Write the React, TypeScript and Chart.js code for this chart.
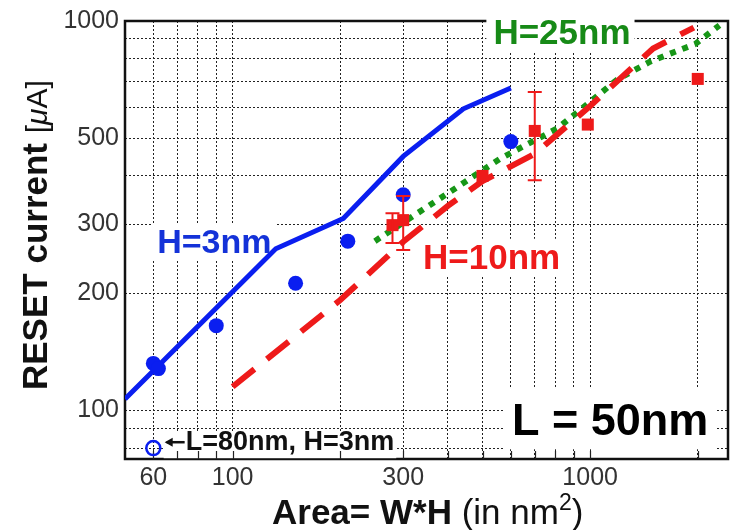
import React, { useEffect, useRef } from 'react';
import { Chart, registerables } from 'chart.js';

Chart.register(...registerables);

// ---- data ----
const blueModelX = [50, 132, 204, 300, 442, 600];
const blueModelY = [107, 260, 311, 449, 595, 673];
const redModelX = [100, 200, 300, 400, 500, 700, 1000, 1200, 1500, 1950];
const redModelY = [115, 192, 271, 335, 388, 456, 605, 705, 850, 962];
const greenModelX = [250, 400, 560, 810, 1000, 1190, 1470, 1670, 1970, 2300];
const greenModelY = [272, 361, 443, 530, 620, 707, 786, 824, 873, 975];
const blueDataX = [60, 62, 90, 150, 210, 300, 600];
const blueDataY = [132, 128, 165, 212, 272, 358, 490];
const openDataX = [60];
const openDataY = [80];
const redDataX = [280, 300, 500, 700, 985, 2000];
const redDataY = [299, 308, 400, 522, 542, 710];
const redErrLow = [269, 258, null, 390, null, null];
const redErrHigh = [321, 355, null, 657, null, null];

const xGrid = [60, 70, 80, 90, 100, 200, 300, 400, 500, 600, 700, 800, 900, 1000, 2000];
const xLabels = [60, 100, 300, 1000];
const yGrid = [80, 90, 100, 200, 300, 400, 500, 600, 700, 800, 900, 1000];
const yLabels = [100, 200, 300, 500, 1000];
const xMin = 50;
const xMax = 2430;
const yMin = 75;
const yMax = 1000;

const noteTexts = ['H=3nm', 'H=10nm', 'H=25nm', 'L = 50nm', 'L=80nm, H=3nm'];
const noteX = [61.5, 341, 834, 1137, 73.9];
const noteY = [253, 231, 871, 86.3, 79];

// ---- styles ----
const FONT = '"Liberation Sans", Arial, Helvetica, sans-serif';
const BLUE = '#0a1ef0';
const RED = '#ee1a1a';
const GREEN = '#179617';

const noteStyles = [
  { color: '#1432d8', size: 34, align: 'left', box: [5, 30, 5, 6] },
  { color: RED, size: 35, align: 'left', box: [5, 30, 5, 8] },
  { color: '#178a17', size: 35, align: 'center', box: [7, 35, 4, 7] },
  { color: '#000', size: 45, align: 'center', box: [7, 48, 8, 14] },
  { color: '#111', size: 27, align: 'left', box: [22, 18, 2, 8], arrow: true },
];

const pts = (xs: number[], ys: number[]) => xs.map((x, i) => ({ x, y: ys[i] }));

const overlay = {
  id: 'overlay',
  beforeDatasetsDraw(chart: any) {
    const { ctx, chartArea: a, scales } = chart;
    const xs = scales.x;
    const ys = scales.y;
    ctx.save();
    // frame
    ctx.strokeStyle = '#111';
    ctx.lineWidth = 2.5;
    ctx.setLineDash([]);
    ctx.strokeRect(a.left, a.top, a.right - a.left, a.bottom - a.top);
    // white boxes behind labels
    noteTexts.forEach((t, i) => {
      const st: any = noteStyles[i];
      ctx.font = `bold ${st.size}px ${FONT}`;
      const w = ctx.measureText(t).width;
      const px = xs.getPixelForValue(noteX[i]);
      const py = ys.getPixelForValue(noteY[i]);
      const left = st.align === 'center' ? px - w / 2 : px;
      ctx.fillStyle = '#fff';
      ctx.fillRect(left - st.box[0], py - st.box[1], w + st.box[0] + st.box[2], st.box[1] + st.box[3]);
    });
    // inward tick marks at the bottom
    ctx.strokeStyle = '#222';
    ctx.lineWidth = 1.2;
    xGrid.forEach((v) => {
      const x = Math.round(xs.getPixelForValue(v)) + 0.5;
      ctx.beginPath();
      ctx.moveTo(x, a.bottom);
      ctx.lineTo(x, a.bottom - 8);
      ctx.stroke();
    });
    ctx.restore();
  },
  afterDatasetsDraw(chart: any) {
    const { ctx, scales } = chart;
    const xs = scales.x;
    const ys = scales.y;
    ctx.save();
    // error bars
    ctx.strokeStyle = RED;
    ctx.lineWidth = 2;
    redDataX.forEach((xv, i) => {
      const lo = redErrLow[i];
      const hi = redErrHigh[i];
      if (lo == null || hi == null) return;
      const x = xs.getPixelForValue(xv);
      const y1 = ys.getPixelForValue(lo);
      const y2 = ys.getPixelForValue(hi);
      ctx.beginPath();
      ctx.moveTo(x, y1);
      ctx.lineTo(x, y2);
      ctx.moveTo(x - 7, y1);
      ctx.lineTo(x + 7, y1);
      ctx.moveTo(x - 7, y2);
      ctx.lineTo(x + 7, y2);
      ctx.stroke();
    });
    // labels
    ctx.textBaseline = 'alphabetic';
    noteTexts.forEach((t, i) => {
      const st: any = noteStyles[i];
      ctx.font = `bold ${st.size}px ${FONT}`;
      ctx.fillStyle = st.color;
      ctx.textAlign = st.align;
      const px = xs.getPixelForValue(noteX[i]);
      const py = ys.getPixelForValue(noteY[i]);
      ctx.fillText(t, px, py);
      if (st.arrow) {
        const yy = py - 8;
        ctx.strokeStyle = '#111';
        ctx.lineWidth = 2.5;
        ctx.beginPath();
        ctx.moveTo(px - 1, yy);
        ctx.lineTo(px - 19, yy);
        ctx.stroke();
        ctx.fillStyle = '#111';
        ctx.beginPath();
        ctx.moveTo(px - 21, yy);
        ctx.lineTo(px - 13, yy - 4.5);
        ctx.lineTo(px - 13, yy + 4.5);
        ctx.closePath();
        ctx.fill();
      }
    });
    ctx.restore();
  },
  afterDraw(chart: any) {
    const { ctx } = chart;
    ctx.save();
    ctx.fillStyle = '#111';
    ctx.textBaseline = 'alphabetic';
    ctx.textAlign = 'left';
    const drawRun = (segs: any[], startX: number, baseY: number) => {
      let x = startX;
      segs.forEach((s) => {
        ctx.font = s.font;
        ctx.fillText(s.t, x, baseY - (s.rise || 0));
        x += ctx.measureText(s.t).width;
      });
    };
    // y title
    ctx.save();
    ctx.translate(47, 390);
    ctx.rotate(-Math.PI / 2);
    drawRun(
      [
        { t: 'RESET current ', font: `bold 35px ${FONT}` },
        { t: '[', font: `30px ${FONT}` },
        { t: 'μ', font: `italic 30px ${FONT}` },
        { t: 'A]', font: `30px ${FONT}` },
      ],
      0,
      0
    );
    ctx.restore();
    // x title
    drawRun(
      [
        { t: 'Area= W*H ', font: `bold 35px ${FONT}` },
        { t: '(in nm', font: `35px ${FONT}` },
        { t: '2', font: `23px ${FONT}`, rise: 14 },
        { t: ')', font: `35px ${FONT}` },
      ],
      272,
      524
    );
    ctx.restore();
  },
};

export default function App() {
  const ref = useRef<HTMLCanvasElement | null>(null);
  useEffect(() => {
    if (!ref.current) return;
    const tickFont = { family: FONT, size: 25 };
    const chart = new Chart(ref.current, {
      type: 'scatter',
      data: {
        datasets: [
          {
            data: pts(blueDataX, blueDataY),
            pointRadius: 7.5,
            pointBackgroundColor: BLUE,
            pointBorderWidth: 0,
            showLine: false,
          },
          {
            data: pts(openDataX, openDataY),
            pointRadius: 7,
            pointBackgroundColor: 'rgba(0,0,0,0)',
            pointBorderColor: BLUE,
            pointBorderWidth: 2.5,
            showLine: false,
          },
          {
            data: pts(redDataX, redDataY),
            pointStyle: 'rect',
            pointRadius: 8.5,
            pointBackgroundColor: RED,
            pointBorderWidth: 0,
            showLine: false,
          },
          {
            data: pts(blueModelX, blueModelY),
            showLine: true,
            borderColor: BLUE,
            borderWidth: 5,
            pointRadius: 0,
            tension: 0,
          },
          {
            data: pts(redModelX, redModelY),
            showLine: true,
            borderColor: RED,
            borderWidth: 6,
            borderDash: [28, 16],
            pointRadius: 0,
            tension: 0,
          },
          {
            data: pts(greenModelX, greenModelY),
            showLine: true,
            borderColor: GREEN,
            borderWidth: 6,
            borderDash: [6, 7],
            pointRadius: 0,
            tension: 0,
          },
        ],
      },
      options: {
        animation: false,
        responsive: false,
        devicePixelRatio: 1,
        layout: { autoPadding: false, padding: { left: 0, right: 8, top: 18, bottom: 0 } },
        plugins: { legend: { display: false }, tooltip: { enabled: false } },
        scales: {
          x: {
            type: 'logarithmic',
            min: xMin,
            max: xMax,
            afterBuildTicks: (s: any) => {
              s.ticks = xGrid.map((v) => ({ value: v }));
            },
            afterFit: (s: any) => {
              s.height = 71;
            },
            ticks: {
              autoSkip: false,
              maxRotation: 0,
              color: '#333',
              font: tickFont,
              padding: 4,
              callback: (v: any) => (xLabels.includes(Number(v)) ? String(v) : ''),
            },
            grid: { color: '#222', lineWidth: 1, drawTicks: false, tickLength: 0 },
            border: { display: false, dash: [2, 2] },
          },
          y: {
            type: 'logarithmic',
            min: yMin,
            max: yMax,
            afterBuildTicks: (s: any) => {
              s.ticks = yGrid.map((v) => ({ value: v }));
            },
            afterFit: (s: any) => {
              s.width = 125;
            },
            ticks: {
              autoSkip: false,
              color: '#333',
              font: tickFont,
              padding: 6,
              callback: (v: any) => (yLabels.includes(Number(v)) ? String(v) : ''),
            },
            grid: { color: '#222', lineWidth: 1, drawTicks: false, tickLength: 0 },
            border: { display: false, dash: [2, 2] },
          },
        },
      },
      plugins: [overlay],
    } as any);
    return () => chart.destroy();
  }, []);
  return (
    <div style={{ position: 'absolute', left: 0, top: 0, width: 736, height: 530, background: '#fff' }}>
      <canvas ref={ref} width={736} height={530} style={{ display: 'block', width: 736, height: 530 }} />
    </div>
  );
}
